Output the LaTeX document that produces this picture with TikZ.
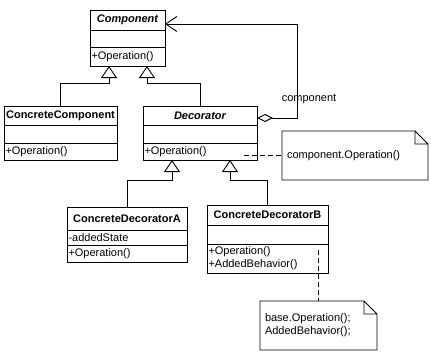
\documentclass[tikz,border=0pt]{standalone}
\usepackage{fontspec}
\setmainfont{Liberation Sans}
\usetikzlibrary{positioning,arrows.meta}
\newcommand{\umlfont}{\fontsize{11}{13}\selectfont}

\begin{document}
\begin{tikzpicture}[x=1pt, y=-1pt, line width=0.9pt, every node/.style={font=\umlfont}]
\tikzstyle{cname}=[draw, outer sep=0pt, inner sep=0pt, font=\umlfont\bfseries]
\tikzstyle{crow}=[draw, outer sep=0pt, inner xsep=1.5pt, inner ysep=0pt, align=left]
\tikzstyle{notebox}=[outer sep=0pt, inner xsep=5pt, align=left, minimum height=49pt]
\tikzstyle{gen}=[-{Triangle[open, length=12pt, width=16pt]}]
\tikzstyle{link}=[dash pattern=on 5pt off 3pt]
\useasboundingbox (0,0) rectangle (431,356);
% Component
\node[cname, font=\umlfont\bfseries\itshape, minimum width=75pt, minimum height=20pt] (compname) at (127.5,20) {Component};
\node[crow, text width=72pt, minimum height=17pt, below=0pt of compname] (compattr) {};
\node[crow, text width=72pt, minimum height=19pt, below=0pt of compattr] (compops) {+Operation()};
% ConcreteComponent
\node[cname, minimum width=113pt, minimum height=19pt] (ccname) at (60.5,115.5) {ConcreteComponent};
\node[crow, text width=110pt, minimum height=18pt, below=0pt of ccname] (ccattr) {};
\node[crow, text width=110pt, minimum height=17pt, below=0pt of ccattr] (ccops) {+Operation()};
% Decorator
\node[cname, font=\umlfont\bfseries\itshape, minimum width=114pt, minimum height=19pt] (decname) at (200,115.5) {Decorator};
\node[crow, text width=111pt, minimum height=18pt, below=0pt of decname] (decattr) {};
\node[crow, text width=111pt, minimum height=17pt, below=0pt of decattr] (decops) {+Operation()};
% ConcreteDecoratorA
\node[cname, minimum width=120pt, minimum height=23pt] (cdaname) at (127,218.5) {ConcreteDecoratorA};
\node[crow, text width=117pt, minimum height=15pt, below=0pt of cdaname] (cdaattr) {-addedState};
\node[crow, text width=117pt, minimum height=17pt, below=0pt of cdaattr] (cdaops) {+Operation()};
% ConcreteDecoratorB
\node[cname, minimum width=121pt, minimum height=20pt] (cdbname) at (267.5,215) {ConcreteDecoratorB};
\node[crow, text width=118pt, minimum height=19pt, below=0pt of cdbname] (cdbattr) {};
\node[crow, text width=118pt, minimum height=29pt, below=0pt of cdbattr] (cdbops) {+Operation()\\+AddedBehavior()};
% notes
\node[notebox, text width=136pt] (note1) at (355,155.5) {component.Operation()};
\node[notebox, text width=107pt] (note2) at (318.5,325.5) {base.Operation();\\AddedBehavior();};
\foreach \n in {note1,note2}
  \draw (\n.south west) |- ([xshift=-13pt]\n.north east) -- ([yshift=-13pt]\n.north east) -- (\n.south east) -- cycle
        ([xshift=-13pt]\n.north east) |- ([yshift=-13pt]\n.north east);
% inheritance
\draw[gen] (ccname.north) -- ++(0,-23) -| ([xshift=19pt]compops.south west);
\draw[gen] (decname.north) -- ++(0,-23) -| ([xshift=-18pt]compops.south east);
\draw[gen] (cdaname.north) -- ++(0,-27) -| ([xshift=29pt]decops.south west);
\draw[gen] (cdbname.north) -- ++(0,-25) -| ([xshift=-27pt]decops.south east);
% aggregation
\draw[{Diamond[open, length=16pt, width=8pt]}-{Straight Barb[length=11pt, width=15pt]}]
  ([yshift=-2.5pt]decname.east) -- ++(40,0) node[above=14pt, xshift=12pt, inner sep=0pt] {component}
  |- ([yshift=-4pt]compname.east);
% note links
\coordinate (n1tip) at (244,155);
\coordinate (n2tip) at (318,250);
\draw[link] (n1tip) -- (n1tip -| note1.west);
\draw[link] (n2tip) -- (n2tip |- note2.north);
\end{tikzpicture}
\end{document}
